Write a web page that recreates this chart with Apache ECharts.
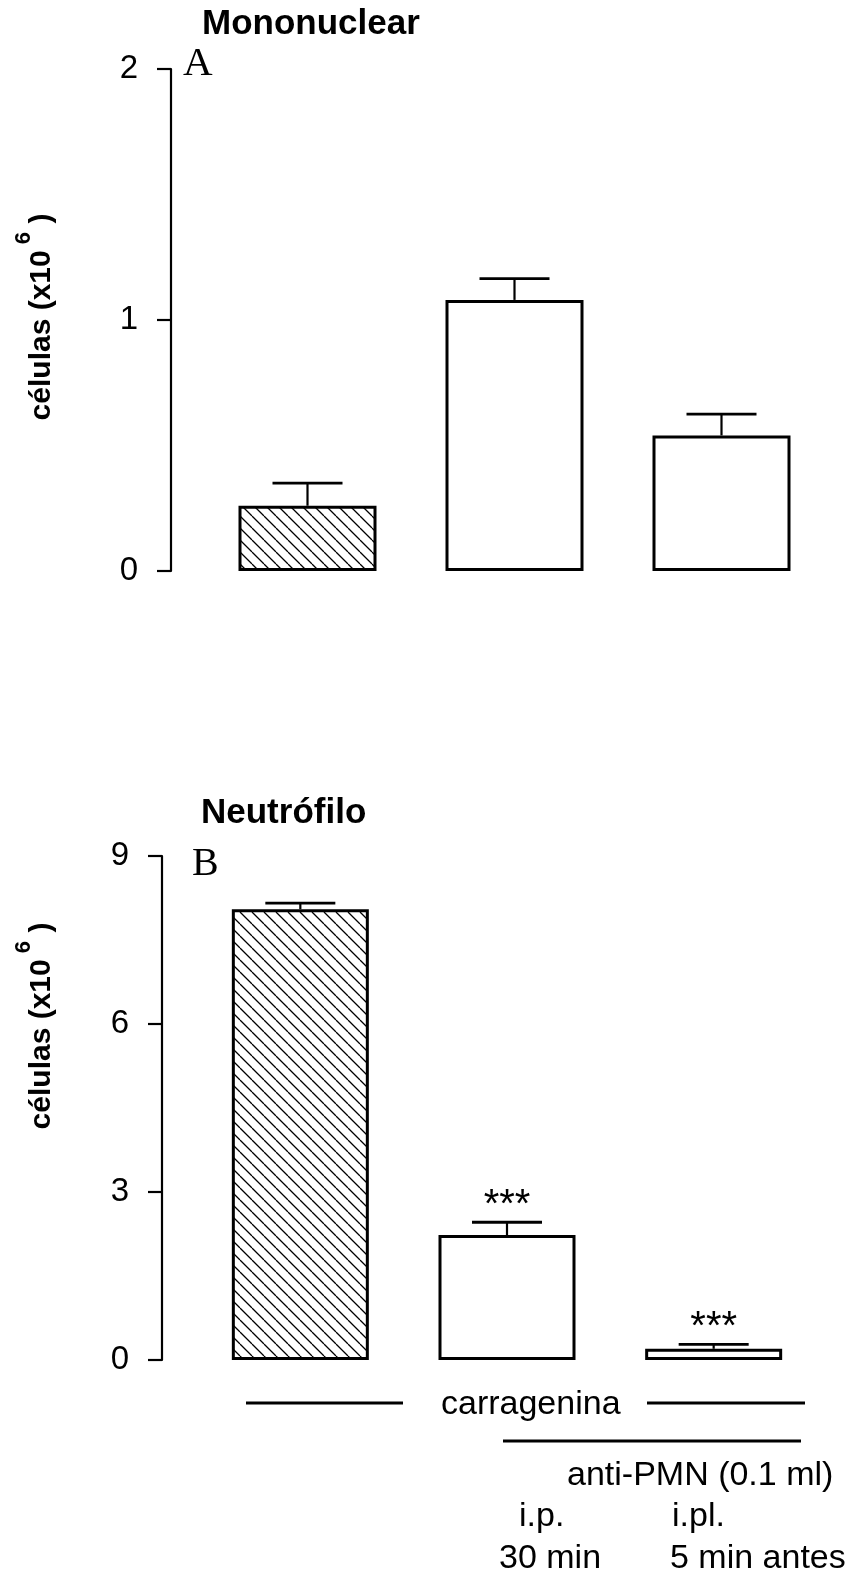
<!DOCTYPE html>
<html style="height: 100%">
<head>
<meta charset="utf-8">
<script src="https://cdn.jsdelivr.net/npm/echarts@6/dist/echarts.min.js"></script>
</head>
<body style="height: 100%; margin: 0; background: #fff">
<div id="container" style="width: 853px; height: 1571px"></div>
<script type="text/javascript">
// groups (same order in both panels)
var groups = ['carragenina', 'anti-PMN i.p. 30 min', 'anti-PMN i.pl. 5 min antes'];

// panel A - mononuclear cells (x10^6)
var monoMean = [0.26, 1.08, 0.54];
var monoSem = [0.09, 0.085, 0.085];
var monoTicks = [0, 1, 2];

// panel B - neutrophils (x10^6)
var neutMean = [8.05, 2.23, 0.2];
var neutSem = [0.11, 0.23, 0.08];
var neutStars = ['', '***', '***'];
var neutTicks = [0, 3, 6, 9];

var SANS = '"Liberation Sans", Arial, sans-serif';
var SERIF = '"Liberation Serif", "Times New Roman", serif';

// diagonal hatch for the control bar
function hatch() {
    var c = document.createElement('canvas');
    c.width = 12; c.height = 12;
    var g = c.getContext('2d');
    g.strokeStyle = '#000';
    g.lineWidth = 1.3;
    g.beginPath();
    [-12, 0, 12].forEach(function (k) {
        g.moveTo(k, 0);
        g.lineTo(k + 12, 12);
    });
    g.stroke();
    return c;
}
var hatchFill = { image: hatch(), repeat: 'repeat' };

function barData(means) {
    return means.map(function (v, i) {
        return {
            value: v,
            itemStyle: { color: i === 0 ? hatchFill : '#fff' }
        };
    });
}

function errRender(stars) {
    return function (params, api) {
        var i = api.value(0);
        var m = api.value(1);
        var s = api.value(2);
        var base = api.coord([i, m]);
        var top = api.coord([i, m + s]);
        var kids = [
            { type: 'line', shape: { x1: base[0], y1: base[1], x2: top[0], y2: top[1] },
              style: { stroke: '#000', lineWidth: 2.2 } },
            { type: 'line', shape: { x1: top[0] - 35, y1: top[1], x2: top[0] + 35, y2: top[1] },
              style: { stroke: '#000', lineWidth: 2.8 } }
        ];
        if (stars && stars[i]) {
            kids.push({ type: 'text', x: top[0], y: top[1] - 16,
                style: { text: stars[i], fill: '#000', fontSize: 40, fontFamily: SANS,
                         align: 'center', verticalAlign: 'middle' } });
        }
        return { type: 'group', children: kids };
    };
}

function yAxis(gridIndex, ticks, offset) {
    return {
        type: 'value', gridIndex: gridIndex,
        min: ticks[0], max: ticks[ticks.length - 1], interval: ticks[1] - ticks[0],
        offset: offset,
        axisLine: { show: true, lineStyle: { color: '#000', width: 2.2 } },
        axisTick: { show: true, length: 14, lineStyle: { color: '#000', width: 2.2 } },
        axisLabel: { color: '#000', fontSize: 33, fontFamily: SANS, margin: 33 },
        splitLine: { show: false }
    };
}

function xAxis(gridIndex) {
    return {
        type: 'category', gridIndex: gridIndex, data: groups,
        axisLine: { show: false }, axisTick: { show: false }, axisLabel: { show: false }
    };
}

var barStyle = { borderColor: '#000', borderWidth: 3 };

function ylabel(y) {
    return {
        type: 'text', x: 42, y: y, rotation: Math.PI / 2,
        style: {
            text: '{m|células (x10}{s| 6}{m| )}',
            fill: '#000', align: 'center', verticalAlign: 'middle',
            rich: {
                m: { fontSize: 30, fontWeight: 'bold', fontFamily: SANS, lineHeight: 58 },
                s: { fontSize: 22, fontWeight: 'bold', fontFamily: SANS, lineHeight: 16, verticalAlign: 'top' }
            }
        }
    };
}

function txt(s, x, y, size, font, weight) {
    return { type: 'text', x: x, y: y,
        style: { text: s, fill: '#000', fontSize: size, fontFamily: font || SANS,
                 fontWeight: weight || 'normal', align: 'left', verticalAlign: 'middle' } };
}

function hline(x1, x2, y) {
    return { type: 'line', shape: { x1: x1, y1: y, x2: x2, y2: y },
             style: { stroke: '#000', lineWidth: 3 } };
}

var dom = document.getElementById('container');
var myChart = echarts.init(dom);

var option = {
    backgroundColor: '#fff',
    animation: false,
    grid: [
        { left: 204, width: 621, top: 69, height: 502 },
        { left: 197, width: 620, top: 856, height: 504 }
    ],
    xAxis: [xAxis(0), xAxis(1)],
    yAxis: [yAxis(0, monoTicks, 33), yAxis(1, neutTicks, 35)],
    series: [
        { type: 'bar', xAxisIndex: 0, yAxisIndex: 0, barWidth: 138,
          itemStyle: barStyle, data: barData(monoMean) },
        { type: 'custom', xAxisIndex: 0, yAxisIndex: 0, z: 3,
          renderItem: errRender(null), encode: { x: 0, y: 1 },
          data: monoMean.map(function (m, i) { return [i, m, monoSem[i]]; }) },
        { type: 'bar', xAxisIndex: 1, yAxisIndex: 1, barWidth: 137,
          itemStyle: barStyle, data: barData(neutMean) },
        { type: 'custom', xAxisIndex: 1, yAxisIndex: 1, z: 3,
          renderItem: errRender(neutStars), encode: { x: 0, y: 1 },
          data: neutMean.map(function (m, i) { return [i, m, neutSem[i]]; }) }
    ],
    graphic: [
        txt('Mononuclear', 202, 24, 35, SANS, 'bold'),
        txt('Neutrófilo', 201, 813, 35, SANS, 'bold'),
        txt('A', 183, 64, 41, SERIF),
        txt('B', 192, 864, 40, SERIF),
        ylabel(317),
        ylabel(1026),
        hline(246, 403, 1403),
        txt('carragenina', 441, 1405, 34),
        hline(647, 805, 1403),
        hline(503, 801, 1441),
        txt('anti-PMN (0.1 ml)', 567, 1476, 34),
        txt('i.p.', 519, 1517, 34),
        txt('i.pl.', 672, 1517, 34),
        txt('30 min', 499, 1559, 34),
        txt('5 min antes', 670, 1559, 34)
    ]
};

myChart.setOption(option, true);
</script>
</body>
</html>
